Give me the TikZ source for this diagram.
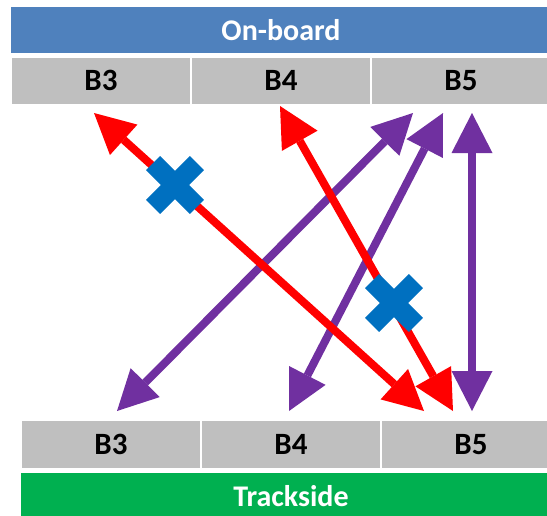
\documentclass[tikz,border=0pt]{standalone}
\usepackage{fontspec}
\setmainfont{Carlito}
\usetikzlibrary{arrows.meta}
\definecolor{barblue}{HTML}{4F81BD}
\definecolor{bargreen}{HTML}{00B050}
\definecolor{cellgrey}{HTML}{BFBFBF}
\definecolor{crossblue}{HTML}{0070C0}
\definecolor{arrpurple}{HTML}{7030A0}
\definecolor{arrred}{HTML}{FF0000}
\tikzset{
  cell/.style={fill=cellgrey, minimum width=178pt, minimum height=46pt, inner sep=0pt,
    text height=19.6pt, text depth=0pt,
    font=\fontsize{31}{32}\selectfont\bfseries, text=black},
  bar/.style={minimum width=540pt, minimum height=46pt, inner sep=0pt,
    font=\fontsize{30}{32}\selectfont\bfseries, text=white},
  link/.style={line width=8pt, {Triangle[length=40pt,width=41pt,line width'=0pt]}-{Triangle[length=40pt,width=41pt,line width'=0pt]}},
}
\begin{document}
\begin{tikzpicture}[x=1pt,y=-1pt]
\useasboundingbox (0,0) rectangle (547,515);
\clip (0,0) rectangle (547,515);
% top table
\node[bar, fill=barblue] (onboard) at (281,30) {On-board};
\node[cell] (tB3) at (101,81) {B3};
\node[cell] (tB4) at (281,81) {B4};
\node[cell] (tB5) at (461,81) {B5};
% bottom table
\node[cell, minimum height=47pt] (bB3) at (111,444.5) {B3};
\node[cell, minimum height=47pt] (bB4) at (291,444.5) {B4};
\node[cell, minimum height=47pt] (bB5) at (471,444.5) {B5};
\node[bar, fill=bargreen] (trackside) at (291,496) {Trackside};
% arrow end points
\coordinate (rA1) at (94,113);  \coordinate (rA2) at (424,411);
\coordinate (rB1) at (280,106); \coordinate (rB2) at (453,411);
\coordinate (pC1) at (413,113); \coordinate (pC2) at (117,411);
\coordinate (pD1) at (443,113); \coordinate (pD2) at (289,411);
\coordinate (pE1) at (472,113); \coordinate (pE2) at (472,411);
% purple arrows
\draw[link, arrpurple] (pC1) -- (pC2);
\draw[link, arrpurple] (pD1) -- (pD2);
\draw[link, arrpurple] (pE1) -- (pE2);
% red arrows
\draw[link, arrred] (rA1) -- (rA2);
\draw[link, arrred] (rB1) -- (rB2);
% blue crosses
\coordinate (x1) at (175,185);
\coordinate (x2) at (394,303);
\foreach \c in {x1,x2}{
  \begin{scope}[shift={(\c)}, rotate=45]
    \fill[crossblue] (-31,-10) rectangle (31,10) (-10,-31) rectangle (10,31);
  \end{scope}
}
\end{tikzpicture}
\end{document}
